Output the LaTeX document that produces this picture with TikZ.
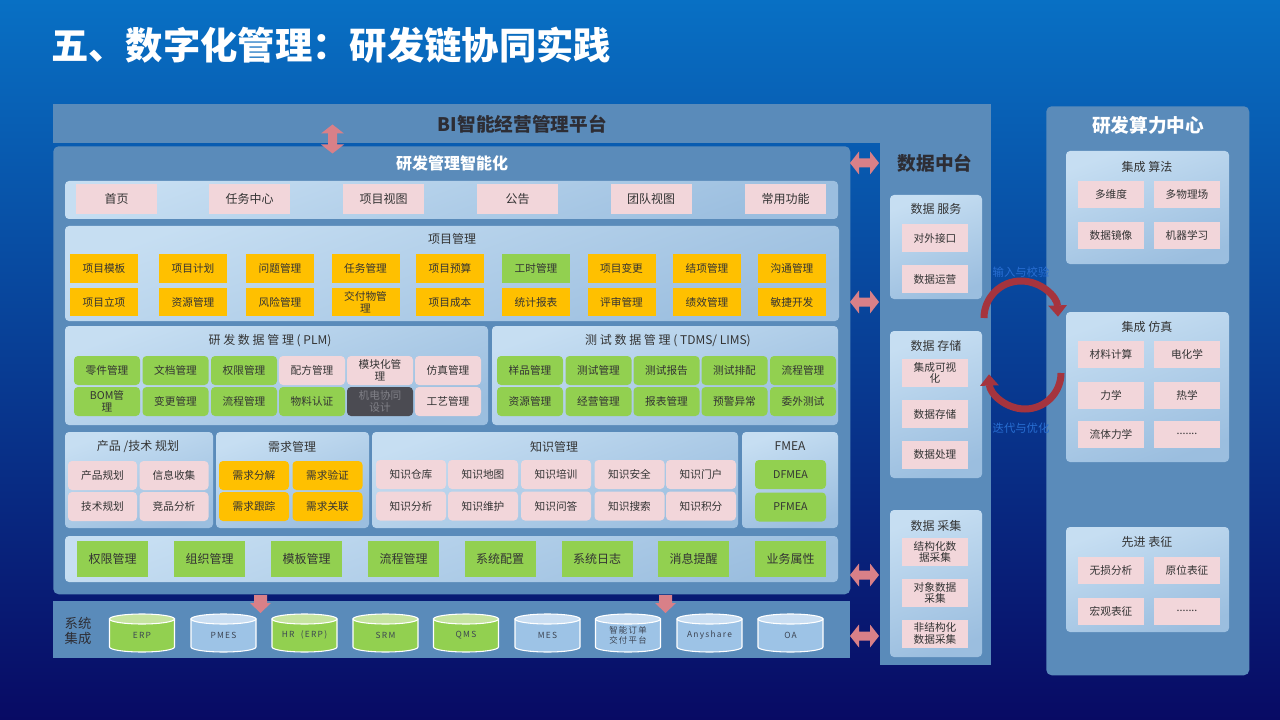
\documentclass[tikz,border=0pt]{standalone}
\usepackage{fontspec}
\setmainfont{Noto Sans CJK SC}
\newfontfamily\cylfont{Noto Sans CJK SC}[LetterSpace=15]
\usetikzlibrary{arrows.meta,calc}
\newdimen\px \px=0.75pt
\newcommand{\etcdots}{.......}
\definecolor{bgtop}{RGB}{8,112,196}
\definecolor{bgmid}{RGB}{4,48,146}
\definecolor{bgbot}{RGB}{8,10,100}
\definecolor{panelc}{RGB}{90,139,186}
\definecolor{grpT}{RGB}{198,222,242}
\definecolor{grpB}{RGB}{155,190,223}
\definecolor{pinkc}{RGB}{242,214,218}
\definecolor{yelc}{RGB}{255,192,0}
\definecolor{grnc}{RGB}{146,208,80}
\definecolor{darkc}{RGB}{75,75,82}
\definecolor{dtxt}{RGB}{128,128,135}
\definecolor{txtc}{RGB}{51,51,51}
\definecolor{hdtxt}{RGB}{45,45,52}
\definecolor{arrowc}{RGB}{217,128,136}
\definecolor{arcc}{RGB}{165,52,62}
\definecolor{labc}{RGB}{40,110,210}
\definecolor{cylG}{RGB}{146,208,80}
\definecolor{cylGt}{RGB}{198,228,160}
\definecolor{cylB}{RGB}{157,195,230}
\definecolor{cylBt}{RGB}{202,222,242}
\definecolor{cyltxt}{RGB}{60,68,82}

\begin{document}
\begin{tikzpicture}[x=0.75pt, y=-0.75pt,
  font=\fontsize{8}{8.8}\selectfont,
  panel/.style ={fill=panelc, inner sep=0pt},
  grp/.style   ={rounded corners=3pt, top color=grpT, bottom color=grpB,
                 shading angle=20, inner sep=0pt},
  gtit/.style  ={font=\fontsize{9}{10}\selectfont, text=txtc, inner sep=1pt},
  big/.style   ={font=\fontsize{14}{16}\selectfont\bfseries, inner sep=1pt},
  sz/.style 2 args={minimum width=#1\px, minimum height=#2\px},
  cell/.style  ={inner sep=0pt, align=center, text=txtc},
  rc/.style    ={rounded corners=3pt},
  mid/.style   ={font=\fontsize{9}{10}\selectfont},
  cyllab/.style={font=\cylfont\fontsize{6.3}{7.6}\selectfont, text=cyltxt,
                 align=center, inner sep=0pt},
  cyc/.style   ={line width=5.25pt, draw=arcc,
                 -{Triangle[width=13.5pt, length=8.5pt]}},
  cyclab/.style={font=\fontsize{8.5}{9}\selectfont, text=labc, inner sep=1pt},
  darrow/.pic  ={\fill[arrowc] (-14.5,0) -- (-5.5,-11.5) -- (-5.5,-4.5)
                 -- (5.5,-4.5) -- (5.5,-11.5) -- (14.5,0) -- (5.5,11.5)
                 -- (5.5,4.5) -- (-5.5,4.5) -- (-5.5,11.5) -- cycle;},
  sarrow/.pic  ={\fill[arrowc] (-6.5,-9) -- (6.5,-9) -- (6.5,-1) -- (10.5,-1)
                 -- (0,9) -- (-10.5,-1) -- (-6.5,-1) -- cycle;}]

% background
\shade[top color=bgtop, middle color=bgmid, bottom color=bgbot]
  (0,0) rectangle (1280,720);
\useasboundingbox (0,0) rectangle (1280,720);

\node[font=\fontsize{28}{31}\selectfont\bfseries, text=white, anchor=west,
  inner sep=0pt] (title) at (51,45) {五、数字化管理：研发链协同实践};

% platform and data columns
\node[panel, anchor=north west, sz={938}{39}, text=hdtxt, big] (bi) at (53,104)
  {BI智能经营管理平台};
\node[panel, anchor=north west, sz={111}{523}] (dz) at (880,142) {};
\node[big, text=hdtxt] (dztit) at (935,163) {数据中台};
\node[panel, rounded corners=4pt, anchor=north west, sz={797}{448}] (dev)
  at (53,146) {};
\node[font=\fontsize{12}{14}\selectfont\bfseries, text=white] (devtit)
  at (452,163) {研发管理智能化};
\node[panel, anchor=north west, sz={797}{57}] (sys) at (53,601) {};
\node[align=center, font=\fontsize{10}{11.5}\selectfont, text=hdtxt] (systit)
  at (78,631) {系统\\集成};
\node[panel, rounded corners=4pt, anchor=north west, sz={203}{569}] (hpc)
  at (1046,106) {};
\node[big, text=white] (hpctit) at (1148,125) {研发算力中心};

% group boxes
\node[grp, sz={773}{38}] (nav)  at (451.5,200) {};
\node[grp, sz={774}{95}] (pm)   at (452,273.5) {};
\node[grp, sz={423}{99}] (plm)  at (276.5,375.5) {};
\node[grp, sz={346}{99}] (tdms) at (665,375.5) {};
\node[grp, sz={148}{96}] (plan) at (139,480) {};
\node[grp, sz={153}{96}] (req)  at (292.5,480) {};
\node[grp, sz={366}{96}] (km)   at (555,480) {};
\node[grp, sz={96}{96}]  (fm)   at (790,480) {};
\node[grp, sz={773}{46}] (base) at (451.5,559) {};
\node[grp, sz={92}{104}] (ds)   at (936,247) {};
\node[grp, sz={92}{147}] (st)   at (936,404.5) {};
\node[grp, sz={92}{147}] (cj)   at (936,583.5) {};
\node[grp, sz={163}{113}] (alg) at (1147.5,207.5) {};
\node[grp, sz={163}{150}] (sim) at (1147.5,387) {};
\node[grp, sz={163}{105}] (chr) at (1147.5,579.5) {};

\node[gtit] (pmtit)   at (452,239) {项目管理};
\node[gtit] (plmtit)  at (270,341) {研 发 数 据 管 理 ( PLM)};
\node[gtit] (tdmstit) at (668,341) {测 试 数 据 管 理 ( TDMS/ LIMS)};
\node[gtit] (plantit) at (138,447) {产品 /技术 规划};
\node[gtit] (reqtit)  at (292,447) {需求管理};
\node[gtit] (kmtit)   at (554,447) {知识管理};
\node[gtit] (fmtit)   at (790,446) {FMEA};
\node[gtit] (dstit)   at (936,209) {数据 服务};
\node[gtit] (sttit)   at (936,346) {数据 存储};
\node[gtit] (cjtit)   at (936,526) {数据 采集};
\node[gtit] (algtit)  at (1147,167) {集成 算法};
\node[gtit] (simtit)  at (1147,327) {集成 仿真};
\node[gtit] (chrtit)  at (1147,542) {先进 表征};

% navigation
\foreach \n/\x/\t in {home/116.5/首页, task/249.5/任务中心, pview/383.5/项目视图,
    notice/517.5/公告, team/651/团队视图, common/785.5/常用功能}
  \node[cell, mid, fill=pinkc, sz={81}{30}] (\n) at (\x,199) {\t};

% project management
\foreach \n/\x/\c/\t in {ptpl/104/yelc/项目模板, pplan/193/yelc/项目计划,
    pissue/280/yelc/问题管理, ptask/365.5/yelc/任务管理, pbud/450/yelc/项目预算,
    phour/536/grnc/工时管理, pchg/621.5/yelc/项目变更, pclose/707/yelc/结项管理,
    pcomm/792/yelc/沟通管理}
  \node[cell, fill=\c, sz={68}{29}] (\n) at (\x,268.5) {\t};
\foreach \n/\x/\t in {pinit/104/项目立项, pres/193/资源管理, prisk/280/风险管理,
    pdeliv/365.5/交付物管\\理, pcost/450/项目成本, pstat/536/统计报表,
    prev/621.5/评审管理, pperf/707/绩效管理, pagile/792/敏捷开发}
  \node[cell, fill=yelc, sz={68}{28}] (\n) at (\x,302) {\t};

% PLM
\foreach \n/\x/\c/\t in {part/107/grnc/零件管理, doc/175.5/grnc/文档管理,
    perm/244/grnc/权限管理, recipe/312/pinkc/配方管理, modu/380/pinkc/模块化管\\理,
    simm/448/pinkc/仿真管理}
  \node[cell, rc, fill=\c, sz={66}{29}] (\n) at (\x,370.5) {\t};
\foreach \n/\x/\c/\t in {bom/107/grnc/BOM管\\理, chg/175.5/grnc/变更管理,
    flow/244/grnc/流程管理, mat/312/grnc/物料认证, craft/448/pinkc/工艺管理}
  \node[cell, rc, fill=\c, sz={66}{29}] (\n) at (\x,401.5) {\t};
\node[cell, rc, fill=darkc, text=dtxt, sz={66}{29}] (mech) at (380,401.5)
  {机电协同\\设计};

% TDMS
\foreach \n/\x/\t in {smp/530/样品管理, tst/598.5/测试管理, trep/666.5/测试报告,
    tsch/734.5/测试排配, tflow/803/流程管理}
  \node[cell, rc, fill=grnc, sz={66}{29}] (\n) at (\x,370.5) {\t};
\foreach \n/\x/\t in {tres/530/资源管理, tbiz/598.5/经营管理, trpt/666.5/报表管理,
    twarn/734.5/预警异常, tout/803/委外测试}
  \node[cell, rc, fill=grnc, sz={66}{29}] (\n) at (\x,401.5) {\t};

% planning, requirements, knowledge, FMEA
\foreach \n/\x/\y/\t in {prodp/102.5/475.5/产品规划, info/174/475.5/信息收集,
    techp/102.5/506.5/技术规划, comp/174/506.5/竞品分析}
  \node[cell, rc, fill=pinkc, sz={69}{29}] (\n) at (\x,\y) {\t};
\foreach \n/\x/\y/\t in {rdec/254/475.5/需求分解, rver/327.5/475.5/需求验证,
    rtrk/254/506.5/需求跟踪, rlink/327.5/506.5/需求关联}
  \node[cell, rc, fill=yelc, sz={70}{29}] (\n) at (\x,\y) {\t};
\foreach \n/\x/\y/\t in {kstore/411/474.5/知识仓库, kmap/483/474.5/知识地图,
    ktrain/556/474.5/知识培训, ksafe/629.5/474.5/知识安全, kport/701/474.5/知识门户,
    kana/411/506/知识分析, kmaint/483/506/知识维护, kqa/556/506/知识问答,
    ksrch/629.5/506/知识搜索, kpts/701/506/知识积分}
  \node[cell, rc, fill=pinkc, sz={70}{29}] (\n) at (\x,\y) {\t};
\node[cell, rc, fill=grnc, sz={71}{29}] (dfmea) at (790.5,474.5) {DFMEA};
\node[cell, rc, fill=grnc, sz={71}{29}] (pfmea) at (790.5,507) {PFMEA};

% base functions
\foreach \n/\x/\t in {bperm/112.5/权限管理, borg/209.5/组织管理, btpl/306.5/模板管理,
    bflow/403.5/流程管理, bcfg/500/系统配置, blog/597/系统日志,
    bmsg/693.5/消息提醒, battr/790.5/业务属性}
  \node[cell, mid, fill=grnc, sz={71}{36}] (\n) at (\x,559) {\t};

% data platform
\foreach \n/\y/\t in {api/238/对外接口, ops/279/数据运营, vis/373/集成可视\\化,
    store/414/数据存储, proc/454.5/数据处理, scol/552/结构化数\\据采集,
    ocol/593/对象数据\\采集, ucol/633.5/非结构化\\数据采集}
  \node[cell, fill=pinkc, sz={66}{28}] (\n) at (935,\y) {\t};

% computing centre
\foreach \n/\x/\y/\t in {mdim/1111/194.5/多维度, mphy/1187/194.5/多物理场,
    mirr/1111/235.5/数据镜像, ml/1187/235.5/机器学习,
    mcal/1111/354.5/材料计算, echem/1187/354.5/电化学,
    mechs/1111/395.5/力学, therm/1187/395.5/热学,
    fluid/1111/434/流体力学, etca/1187/434/\etcdots,
    ndt/1111/570/无损分析, insitu/1187/570/原位表征,
    macro/1111/611/宏观表征, etcb/1187/611/\etcdots}
  \node[cell, fill=pinkc, sz={66}{27}] (\n) at (\x,\y) {\t};

% integrated systems
\foreach \n/\x/\c/\t in {erp/142/G/ERP, pmes/223.5/B/PMES, hr/304.5/G/HR\ \ (ERP),
    srm/385.5/G/SRM, qms/466/G/QMS, mes/547.5/B/MES,
    ord/628/B/智能订单\\交付平台, any/709.5/B/Anyshare, oa/790.5/B/OA} {
  \filldraw[fill=cyl\c, draw=white, line width=0.8pt]
    ({\x-32.5},619) -- ({\x-32.5},647)
    arc[start angle=180, end angle=0, x radius=32.5, y radius=5]
    -- ({\x+32.5},619) -- cycle;
  \filldraw[fill=cyl\c t, draw=white, line width=0.8pt]
    (\x,619) ellipse [x radius=32.5, y radius=5];
  \node[cyllab] (\n) at (\x,635) {\t};
}

% block arrows
\pic[rotate=90] at (332.5,139) {darrow};
\foreach \y in {163,302,575,636}
  \pic at (864.5,\y) {darrow};
\foreach \x in {260.5,665.5}
  \pic at (\x,604) {sarrow};

% iteration loop
\draw[cyc] (984,318) arc[start angle=180, end angle=358, radius=37];
\draw[cyc] (1061,373) arc[start angle=0, end angle=178, radius=36];
\node[cyclab] (inlab) at (1021,272) {输入与校验};
\node[cyclab] (itlab) at (1021,428) {迭代与优化};
\end{tikzpicture}
\end{document}
